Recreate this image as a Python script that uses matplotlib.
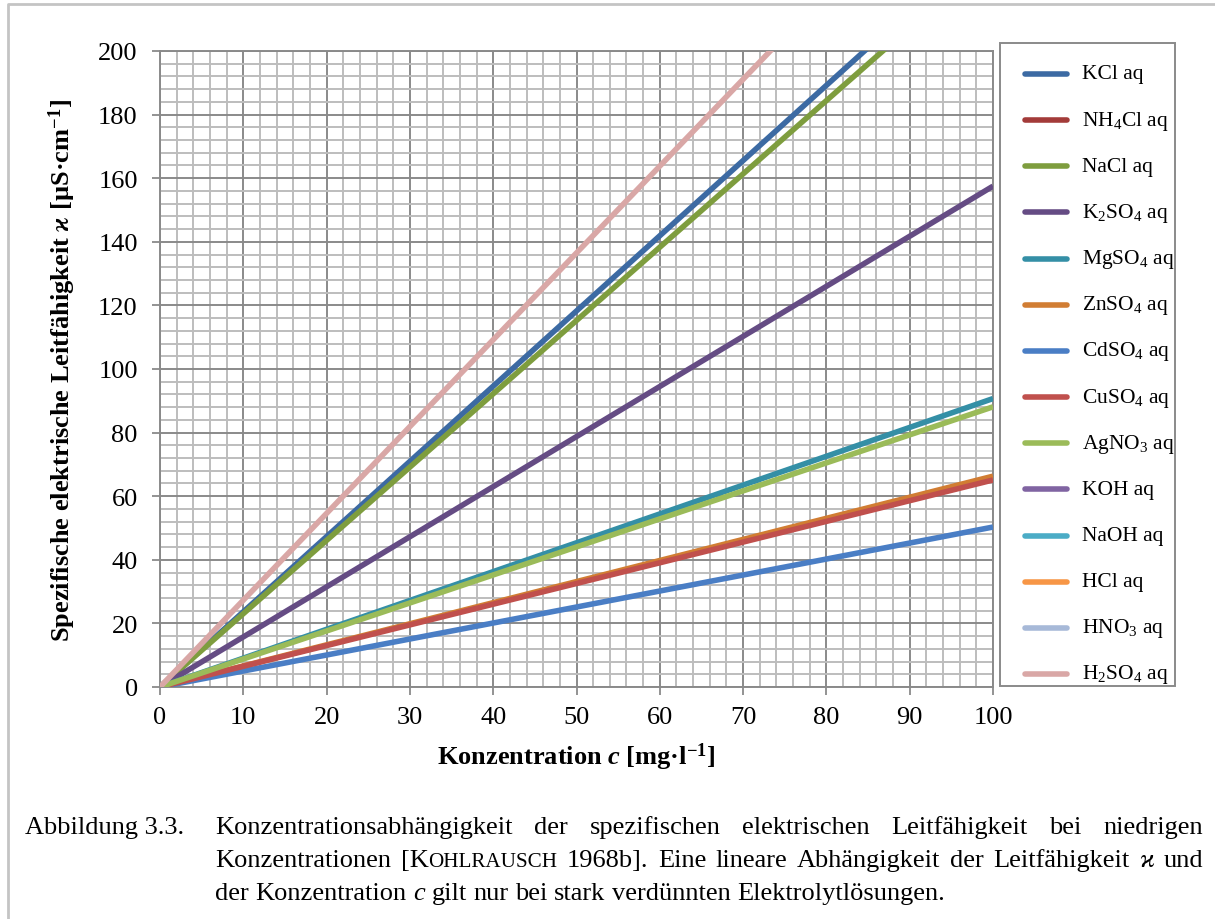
import matplotlib
matplotlib.use("Agg")
import matplotlib.pyplot as plt
from matplotlib.lines import Line2D
from matplotlib.patches import Rectangle

plt.rcParams['font.family'] = ['Liberation Serif', 'DejaVu Serif']
plt.rcParams['mathtext.fontset'] = 'custom'
plt.rcParams['mathtext.rm'] = 'Liberation Serif'
plt.rcParams['mathtext.it'] = 'Liberation Serif:italic'
plt.rcParams['mathtext.bf'] = 'Liberation Serif:bold'
plt.rcParams['mathtext.bfit'] = 'Liberation Serif:italic:bold'
plt.rcParams['mathtext.fallback'] = 'stix'

# concentration in mg/l
conc = [0, 100]

names = ['KCl aq', 'NH$_4$Cl aq', 'NaCl aq', 'K$_2$SO$_4$ aq', 'MgSO$_4$ aq',
         'ZnSO$_4$ aq', 'CdSO$_4$ aq', 'CuSO$_4$ aq', 'AgNO$_3$ aq', 'KOH aq',
         'NaOH aq', 'HCl aq', 'HNO$_3$ aq', 'H$_2$SO$_4$ aq']
colors = ['#3C6AA3', '#A33B39', '#7E9D3E', '#654C84', '#348FA6', '#D17D33',
          '#4A7EC5', '#C0504D', '#9BBB59', '#8064A2', '#4BACC6', '#F79646',
          '#A7B9D8', '#D9A7A6']
# conductivity in uS/cm at 0 and 100 mg/l (None = no visible line)
kappa = [[0, 236.5], None, [0, 230.5], [0, 157.5], [0, 90.7],
         [0, 66.3], [0, 50.3], [0, 65.1], [0, 88.1], None,
         None, None, None, [0, 273.0]]

W, H = 1215, 920
fig = plt.figure(figsize=(W / 100, H / 100), dpi=100)
ax = fig.add_axes([160 / W, (H - 688) / H, 833 / W, 636 / H])

for i, (name, col, k) in enumerate(zip(names, colors, kappa)):
    if k is not None:
        ax.plot(conc, k, color=col, lw=4.0, label=name, zorder=3 + i * 0.1,
                solid_capstyle='butt')

ax.set_xlim(0, 100)
ax.set_ylim(0, 200)
ax.set_xticks(range(0, 101, 10))
ax.set_xticks(range(0, 101, 2), minor=True)
ax.set_yticks(range(0, 201, 20))
ax.set_yticks(range(0, 201, 4), minor=True)
ax.grid(which='minor', color='#BDBDBD', lw=1.4)
ax.grid(which='major', color='#8A8A8A', lw=1.4)
ax.set_axisbelow(True)
ax.tick_params(which='minor', length=0)
ax.tick_params(which='major', length=6, width=1.3, color='#8A8A8A', labelsize=19)
ax.tick_params(axis='y', pad=10)
ax.tick_params(axis='x', pad=8)
for s in ax.spines.values():
    s.set_color('#8A8A8A')
    s.set_linewidth(1.4)

ax.set_xlabel(r'Konzentration $\mathbfit{c}$ [mg·l$^{\mathbf{-1}}$]',
              fontsize=19, fontweight='bold')
ax.set_ylabel(r'Spezifische elektrische Leitfähigkeit $\mathbfit{\varkappa}$ [µS·cm$^{\mathbf{-1}}$]',
              fontsize=19, fontweight='bold')
ax.xaxis.set_label_coords(0.5, -(757 - 688) / 636, transform=ax.transAxes)
ax.xaxis.label.set_va('center')
ax.yaxis.set_label_coords(-(160 - 62) / 833, 0.5, transform=ax.transAxes)
ax.yaxis.label.set_va('center')

# legend box on the right
fig.add_artist(Rectangle((1000 / W, 1 - 687 / H), 175 / W, 643 / H,
                         transform=fig.transFigure, fill=False,
                         edgecolor='#8A8A8A', lw=1.4))
for i, (name, col) in enumerate(zip(names, colors)):
    y = 1 - (75 + i * 46.15) / H
    fig.add_artist(Line2D([1025 / W, 1067 / W], [y, y], color=col, lw=4.0,
                          solid_capstyle='round', transform=fig.transFigure))
    fig.text(1082 / W, y, name, fontsize=15.5, va='center', ha='left')

# page border
fig.add_artist(Line2D([8 / W, 8 / W, 1], [0, 1 - 5 / H, 1 - 5 / H],
                      color='#C4C4C4', lw=2, transform=fig.transFigure))

# caption
fs = 19
renderer = fig.canvas.get_renderer()


def seg_width(text, size, style):
    t = fig.text(0, 0, text, fontsize=size, fontstyle=style)
    w = t.get_window_extent(renderer).width
    t.remove()
    return w


def draw_line(words, x0, x1, y, justify):
    widths = [sum(seg_width(s, fs * f, st) for s, f, st in w) for w in words]
    if justify:
        gap = (x1 - x0 - sum(widths)) / (len(words) - 1)
    else:
        gap = seg_width('a b', fs, 'normal') - seg_width('ab', fs, 'normal')
    x = x0
    for w, wd in zip(words, widths):
        xx = x
        for s, f, st in w:
            fig.text(xx / W, 1 - y / H, s, fontsize=fs * f, fontstyle=st,
                     va='baseline', ha='left')
            xx += seg_width(s, fs * f, st)
        x += wd + gap


def plain(text):
    return [[(w, 1, 'normal')] for w in text.split()]


fig.text(25 / W, 1 - 834 / H, 'Abbildung 3.3.', fontsize=fs, va='baseline')
line1 = plain('Konzentrationsabhängigkeit der spezifischen elektrischen '
              'Leitfähigkeit bei niedrigen')
line2 = (plain('Konzentrationen') +
         [[('[K', 1, 'normal'), ('OHLRAUSCH', 0.8, 'normal')]] +
         plain('1968b]. Eine lineare Abhängigkeit der Leitfähigkeit') +
         [[('ϰ', 1, 'italic')]] + plain('und'))
line3 = (plain('der Konzentration') + [[('c', 1, 'italic')]] +
         plain('gilt nur bei stark verdünnten Elektrolytlösungen.'))
draw_line(line1, 215, 1203, 834, True)
draw_line(line2, 215, 1203, 867, True)
draw_line(line3, 215, 1203, 900, False)

fig.savefig('out.png', dpi=100)
